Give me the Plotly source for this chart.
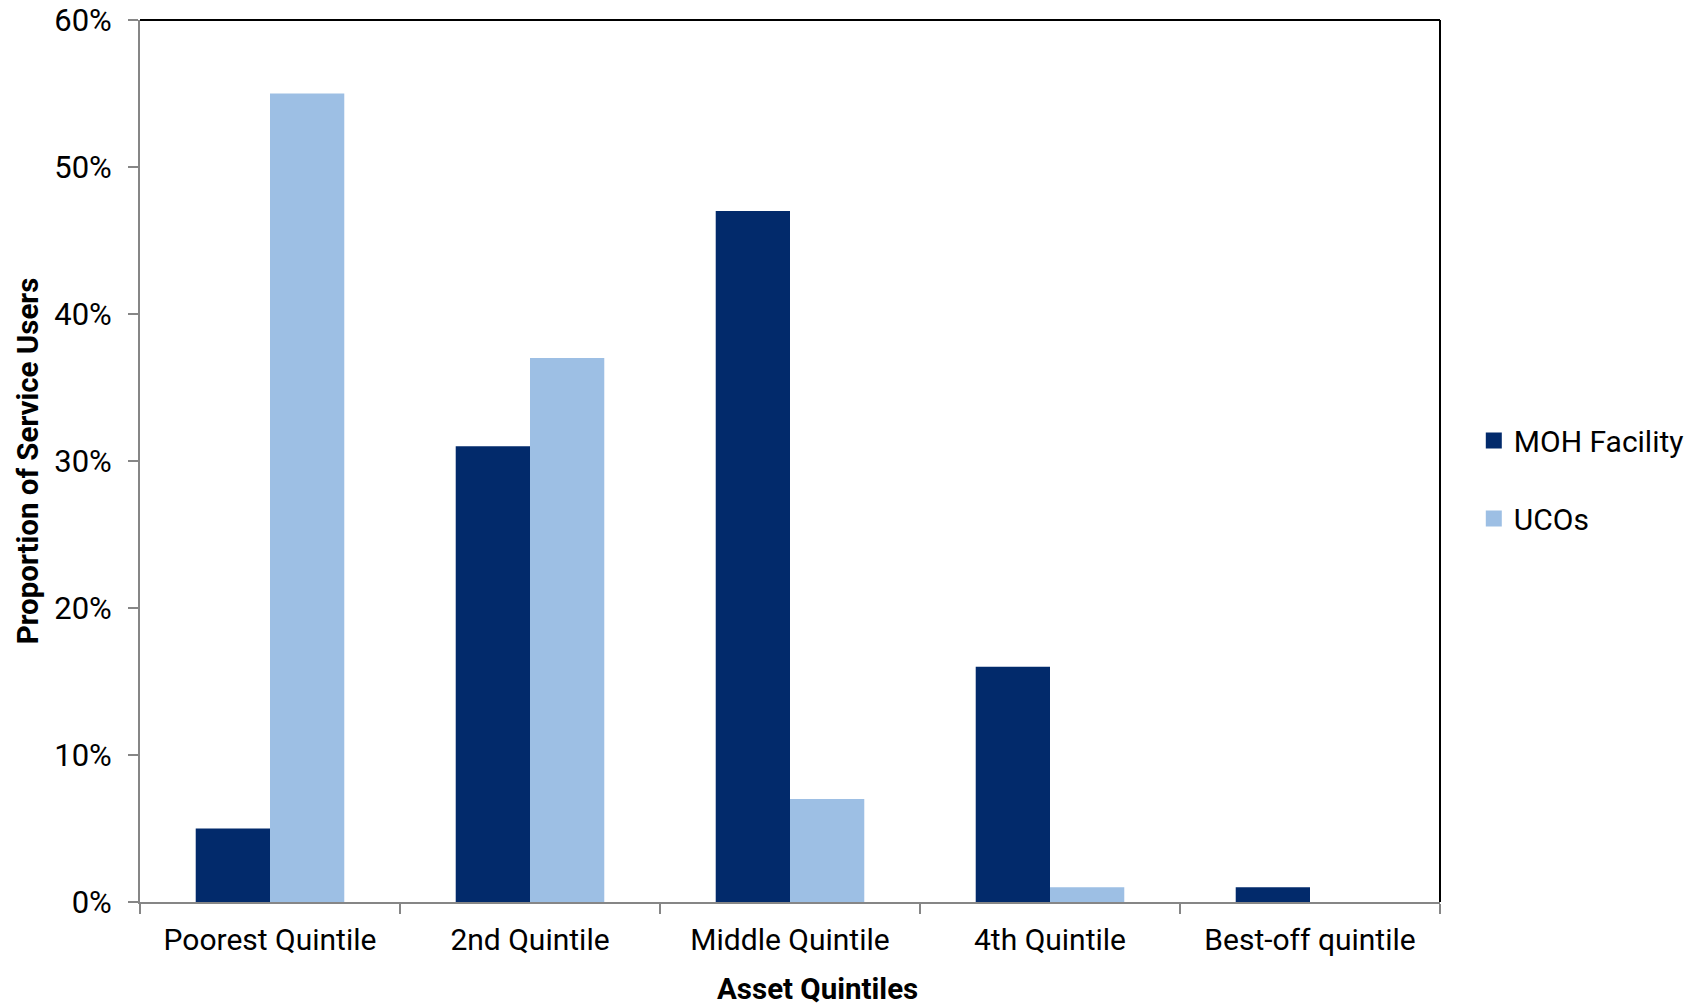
import plotly.graph_objects as go

categories = ["Poorest Quintile", "2nd Quintile", "Middle Quintile", "4th Quintile", "Best-off quintile"]
moh_facility = [0.05, 0.31, 0.47, 0.16, 0.01]
ucos = [0.55, 0.37, 0.07, 0.01, 0.0]
y_ticks = [0, 0.1, 0.2, 0.3, 0.4, 0.5, 0.6]
series_names = ["MOH Facility", "UCOs"]
series_colors = ["#022A6B", "#9DBFE4"]

FONT = "Roboto, Arial, sans-serif"

fig = go.Figure()
for name, vals, col, grp in zip(series_names, [moh_facility, ucos], series_colors, ["a", "b"]):
    fig.add_trace(go.Bar(x=categories, y=vals, name=name, showlegend=False,
                         marker=dict(color=col, line=dict(width=0)), legendgroup=grp))
    # legend entry with a larger square swatch
    fig.add_trace(go.Scatter(x=[categories[0]], y=[None], mode="markers", name=name,
                             marker=dict(symbol="square", size=16, color=col),
                             legendgroup=grp, hoverinfo="skip"))

fig.update_layout(
    width=1702, height=1005,
    margin=dict(l=140, r=262, t=20, b=103, autoexpand=False),
    paper_bgcolor="white", plot_bgcolor="white",
    barmode="group", bargap=0.4286, bargroupgap=0,
    font=dict(family=FONT, size=30, color="black"),
    showlegend=True,
    legend=dict(x=1.026, xanchor="left", xref="paper", y=0.479, yanchor="middle",
                font=dict(size=30), tracegroupgap=36, bgcolor="rgba(0,0,0,0)",
                itemwidth=30),
    xaxis=dict(showline=True, linecolor="#868686", linewidth=2, automargin=False,
               ticks="outside", tickson="boundaries", ticklen=10, tickcolor="#868686",
               tickwidth=2, showgrid=False, tickfont=dict(size=30), ticklabelstandoff=10),
    yaxis=dict(range=[0, 0.6], tickvals=y_ticks, tickformat=".0%", automargin=False,
               showline=True, linecolor="#868686", linewidth=2,
               ticks="outside", ticklen=10, tickcolor="#868686", tickwidth=2,
               showgrid=False, zeroline=False, tickfont=dict(size=31), ticklabelstandoff=10,
               title=dict(text="<b>Proportion of Service Users</b>", font=dict(size=29.5), standoff=7)),
)

# top and right frame lines (black)
fig.add_shape(type="line", xref="paper", yref="paper", x0=0, x1=1, y0=1, y1=1,
              line=dict(color="black", width=2))
fig.add_shape(type="line", xref="paper", yref="paper", x0=1, x1=1, y0=0, y1=1,
              line=dict(color="black", width=2))

fig.add_annotation(text="<b>Asset Quintiles</b>", xref="paper", yref="paper",
                   x=(817 - 140) / 1300, y=-0.0985, yanchor="middle", showarrow=False,
                   font=dict(size=29.5))

fig.write_html("out.html")
